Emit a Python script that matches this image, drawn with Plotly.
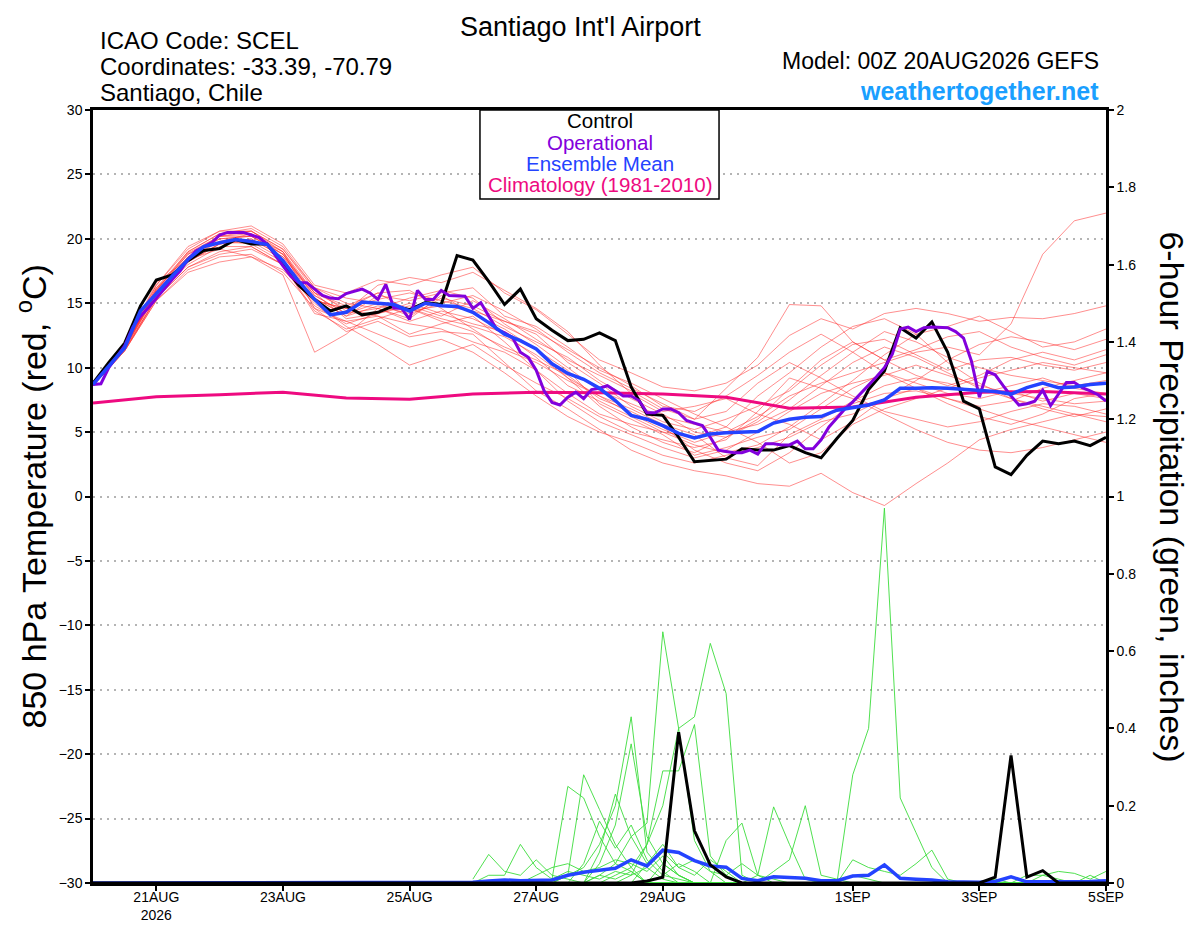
import pandas as pd
import plotly.graph_objects as go

run_start = '2026-08-20 00:00'
run_end = '2026-09-05 00:00'
pcp_start = '2026-08-26 00:00'

# 850 hPa temperature (C), control run, 6-hourly
control_t = [8.8, 10.4, 11.9, 14.8, 16.8, 17.2, 18.3, 19.1, 19.25, 19.95,
             19.6, 19.6, 18.0, 16.4, 15.3, 14.4, 14.8, 14.1, 14.3, 14.8,
             14.5, 15.05, 14.9, 18.7, 18.35, 16.7, 14.9, 16.1, 13.8, 12.9,
             12.1, 12.2, 12.7, 12.1, 8.5, 6.4, 6.3, 4.6, 2.7, 2.8,
             2.9, 3.7, 3.6, 3.6, 3.95, 3.4, 3.0, 4.5, 5.9, 8.3,
             9.75, 13.1, 12.3, 13.55, 11.2, 7.4, 6.8, 2.3, 1.7, 3.2,
             4.3, 4.1, 4.3, 3.95, 4.6]

# ensemble mean, 6-hourly
mean_t = [8.7, 10.1, 11.55, 14.4, 15.8, 17.1, 18.4, 19.4, 19.7, 19.95,
          19.8, 19.55, 18.3, 16.7, 15.3, 14.1, 14.3, 15.1, 15.0, 14.9,
          14.4, 15.0, 14.8, 14.75, 14.3, 13.5, 12.6, 12.1, 11.45, 10.3,
          9.55, 9.1, 8.4, 7.45, 6.3, 6.0, 5.5, 4.9, 4.55, 4.85,
          4.95, 5.0, 5.05, 5.7, 6.0, 6.15, 6.2, 6.7, 6.9, 7.1,
          7.5, 8.4, 8.4, 8.45, 8.4, 8.3, 8.25, 8.15, 7.95, 8.45,
          8.8, 8.45, 8.5, 8.7, 8.8]

# operational run, 3-hourly
oper_t = [8.7, 8.75, 10.0, 10.9, 11.7, 13.1, 14.0, 14.65, 15.4, 16.1,
          16.85, 17.5, 18.4, 19.05, 19.4, 19.7, 20.3, 20.5, 20.5, 20.5,
          20.3, 20.1, 19.6, 18.7, 17.9, 17.1, 16.6, 16.6, 16.1, 15.6,
          15.4, 15.35, 15.75, 15.9, 16.1, 15.8, 15.3, 16.45, 14.65, 14.6,
          13.75, 16.0, 15.3, 15.3, 16.0, 15.6, 15.55, 15.55, 14.6, 15.05,
          14.0, 13.0, 12.7, 12.35, 11.2, 10.8, 9.8, 8.2, 7.3, 7.1,
          7.7, 8.1, 7.6, 8.3, 8.4, 8.6, 8.2, 7.8, 7.8, 7.45,
          6.5, 6.5, 6.8, 6.8, 6.5, 5.9, 5.7, 5.5, 4.6, 3.6,
          3.5, 3.4, 3.4, 3.6, 3.3, 4.1, 4.1, 4.0, 4.0, 4.3,
          3.7, 3.7, 4.4, 5.4, 6.1, 6.8, 7.35, 8.0, 8.6, 9.3,
          10.0, 11.05, 13.0, 13.15, 12.8, 13.1, 13.15, 13.1, 13.1, 12.8,
          12.3, 10.5, 7.7, 9.7, 9.45, 8.6, 7.8, 7.1, 7.2, 7.4,
          8.25, 7.05, 7.95, 8.85, 8.85, 8.45, 8.2, 7.9, 7.4]

# climatology 1981-2010, daily
clim_t = [7.25, 7.75, 7.9, 8.1, 7.65, 7.55, 7.95, 8.1, 8.05,
          7.95, 7.7, 6.85, 6.95, 7.7, 8.1, 8.15, 7.95]

# ensemble members, 12-hourly
mem01 = [8.8, 11.9, 16.4, 19.4, 20.6, 21.0, 19.6, 16.4, 15.8, 16.8, 16.4,
         17.2, 17.8, 15.8, 14.5, 12.6, 10.6, 9.6, 8.5, 8.2, 8.8, 10.2,
         12.5, 13.8, 13.0, 14.2, 14.6, 14.2, 13.6, 13.9, 13.8, 14.2, 14.8]
mem02 = [8.7, 11.6, 15.9, 18.6, 20.2, 20.4, 18.8, 15.2, 14.6, 15.3, 15.8,
         15.2, 14.6, 13.2, 12.0, 10.8, 9.0, 7.6, 6.4, 5.0, 4.6, 5.8,
         7.5, 9.4, 11.2, 12.8, 12.0, 10.8, 10.0, 9.4, 9.0, 8.6, 9.0]
mem03 = [8.7, 11.5, 15.6, 18.2, 19.6, 20.0, 18.6, 15.6, 14.2, 15.0, 14.6,
         13.8, 13.2, 12.4, 11.0, 9.2, 7.8, 6.4, 5.2, 4.2, 5.0, 6.2,
         7.8, 8.8, 9.6, 10.4, 11.2, 11.6, 11.0, 13.4, 18.8, 21.4, 22.0]
mem04 = [8.6, 11.4, 15.4, 17.8, 19.0, 19.4, 18.0, 14.8, 13.4, 14.2, 14.8,
         14.0, 15.2, 13.8, 12.2, 10.6, 9.4, 8.2, 6.8, 6.0, 8.4, 10.8,
         14.9, 14.8, 12.0, 10.6, 11.4, 12.4, 12.8, 11.6, 10.8, 10.2, 11.0]
mem05 = [8.8, 11.7, 16.0, 18.8, 20.0, 20.2, 19.0, 14.6, 12.8, 13.6, 12.4,
         12.8, 12.6, 10.4, 8.2, 6.8, 5.2, 3.6, 2.6, 2.0, 1.6, 1.0,
         0.8, 1.8, 0.3, -0.7, 1.0, 2.6, 4.4, 5.2, 5.8, 6.4, 6.2]
mem06 = [8.9, 11.8, 16.6, 18.4, 19.2, 18.6, 17.2, 11.2, 12.6, 14.6, 13.8,
         15.6, 14.2, 13.0, 11.4, 9.8, 7.2, 6.0, 4.8, 3.2, 3.8, 4.6,
         5.2, 6.8, 8.4, 9.6, 8.8, 8.0, 7.6, 8.2, 7.4, 8.0, 7.6]
mem07 = [8.6, 11.3, 15.2, 17.4, 18.2, 18.6, 17.6, 15.0, 13.2, 11.8, 10.2,
         11.0, 11.8, 10.2, 8.8, 7.6, 6.2, 5.0, 4.4, 3.8, 4.4, 6.6,
         9.2, 8.4, 7.6, 6.4, 5.2, 4.2, 3.6, 3.4, 3.8, 4.4, 5.0]
mem08 = [8.7, 11.6, 16.0, 19.0, 20.4, 20.6, 19.2, 16.0, 14.4, 16.4, 17.0,
         16.6, 17.4, 16.0, 14.6, 12.8, 10.2, 8.0, 6.6, 7.0, 7.6, 6.4,
         5.6, 4.4, 5.8, 7.6, 9.0, 10.6, 11.8, 12.4, 12.0, 11.4, 12.2]
mem09 = [8.8, 11.7, 16.2, 18.4, 19.8, 19.6, 18.2, 15.4, 14.0, 15.6, 15.2,
         15.8, 16.2, 14.0, 13.2, 11.6, 9.8, 8.8, 7.6, 6.4, 5.4, 4.2,
         2.6, 3.4, 5.6, 6.8, 7.6, 8.4, 9.2, 9.8, 10.4, 10.0, 9.6]
mem10 = [8.7, 11.5, 15.7, 18.0, 19.4, 19.4, 18.0, 14.2, 13.6, 14.0, 13.4,
         13.0, 12.0, 11.2, 9.8, 8.0, 6.4, 5.6, 5.0, 4.6, 5.4, 7.8,
         9.6, 11.6, 13.2, 13.8, 12.6, 10.4, 8.8, 7.6, 7.0, 6.4, 5.8]
mem11 = [8.6, 11.4, 15.4, 18.2, 19.6, 20.0, 18.6, 15.8, 14.8, 15.8, 16.0,
         14.6, 13.0, 11.4, 10.4, 9.0, 7.8, 6.8, 5.6, 4.8, 3.0, 2.4,
         4.8, 6.0, 7.4, 8.6, 9.2, 8.8, 8.0, 8.6, 9.2, 8.4, 8.0]
mem12 = [8.8, 11.8, 16.2, 19.0, 20.4, 20.8, 19.4, 16.2, 15.0, 14.6, 13.6,
         14.4, 13.8, 12.6, 10.8, 8.6, 7.4, 6.2, 5.0, 4.0, 3.4, 4.0,
         5.4, 7.2, 9.0, 11.0, 12.6, 13.2, 14.0, 12.8, 11.6, 12.0, 13.0]
mem13 = [8.7, 11.6, 15.8, 18.6, 19.8, 20.4, 19.0, 15.4, 14.0, 14.8, 14.2,
         15.0, 15.6, 14.4, 13.0, 11.2, 9.6, 8.4, 7.2, 6.0, 6.6, 8.8,
         10.4, 9.2, 7.8, 6.6, 6.0, 5.4, 5.8, 6.6, 7.2, 7.0, 6.4]
mem14 = [8.6, 11.3, 15.4, 17.8, 18.8, 19.2, 18.0, 14.4, 13.0, 13.8, 14.6,
         13.6, 12.8, 11.6, 10.6, 9.4, 7.6, 6.6, 5.4, 3.6, 2.6, 2.0,
         3.4, 5.4, 7.2, 8.0, 8.2, 7.6, 6.8, 6.0, 5.4, 4.8, 4.2]
mem15 = [8.8, 11.7, 16.0, 18.8, 20.2, 20.6, 19.2, 16.2, 15.4, 15.0, 14.0,
         15.4, 14.8, 13.6, 12.6, 10.4, 8.8, 7.0, 5.8, 5.2, 6.0, 7.0,
         8.2, 10.2, 11.8, 12.2, 11.0, 9.8, 10.6, 10.8, 10.2, 9.8, 10.4]
mem16 = [8.7, 11.5, 15.8, 18.4, 19.6, 19.8, 18.4, 15.2, 14.6, 14.0, 12.6,
         13.4, 14.0, 12.0, 9.8, 7.4, 5.8, 4.8, 3.8, 3.0, 3.6, 5.0,
         6.6, 8.0, 8.8, 9.4, 10.2, 9.4, 8.6, 8.0, 7.6, 7.2, 7.4]
mem17 = [8.7, 11.6, 16.1, 18.9, 20.2, 20.2, 18.8, 15.6, 14.2, 14.6, 15.4,
         16.0, 15.4, 13.4, 11.8, 10.0, 8.2, 7.2, 6.2, 5.6, 5.0, 5.6,
         6.8, 8.6, 10.4, 11.6, 10.8, 9.6, 8.4, 7.6, 6.8, 6.2, 6.8]
mem18 = [8.8, 11.8, 16.4, 19.2, 20.6, 20.6, 19.0, 15.8, 13.8, 14.2, 15.0,
         14.2, 13.4, 12.8, 11.4, 9.2, 7.0, 5.4, 4.2, 3.4, 4.6, 6.0,
         8.4, 10.6, 12.0, 10.6, 9.4, 8.6, 9.4, 10.6, 11.2, 10.6, 11.4]
mem19 = [8.6, 11.3, 15.2, 17.6, 18.6, 18.8, 17.4, 14.6, 13.6, 12.6, 11.6,
         12.2, 11.2, 9.6, 7.8, 6.2, 5.0, 4.2, 3.2, 2.6, 3.2, 3.8,
         4.6, 5.8, 6.4, 7.6, 8.4, 7.2, 6.2, 5.6, 6.4, 7.6, 8.0]
mem20 = [8.7, 11.6, 15.8, 18.6, 20.0, 20.2, 18.8, 15.8, 14.6, 15.8, 14.4,
         14.8, 14.4, 13.6, 12.8, 11.4, 10.0, 8.6, 7.0, 6.6, 7.8, 9.4,
         11.2, 12.6, 11.2, 9.6, 8.4, 7.6, 7.0, 7.4, 8.4, 9.0, 9.6]
members_t = [mem01, mem02, mem03, mem04, mem05, mem06, mem07, mem08, mem09, mem10,
             mem11, mem12, mem13, mem14, mem15, mem16, mem17, mem18, mem19, mem20]

# 6-hour precipitation (inches), 6-hourly
control_p = [0, 0, 0, 0, 0, 0, 0, 0, 0, 0,
             0, 0, 0, 0, 0, 0, 0, 0, 0, 0,
             0, 0, 0, 0, 0, 0, 0, 0, 0, 0,
             0, 0, 0, 0, 0, 0.005, 0.015, 0.39, 0.135, 0.047,
             0.016, 0, 0, 0, 0, 0, 0, 0, 0, 0,
             0, 0, 0, 0, 0, 0, 0, 0.015, 0.33, 0.015,
             0.032, 0, 0, 0, 0]
mean_p = [0, 0, 0, 0, 0, 0, 0, 0, 0, 0,
          0, 0, 0, 0, 0, 0, 0, 0, 0, 0,
          0, 0, 0, 0, 0.002, 0.005, 0.008, 0.006, 0.008, 0.008,
          0.02, 0.028, 0.033, 0.038, 0.06, 0.044, 0.085, 0.079, 0.058, 0.044,
          0.041, 0.012, 0.006, 0.016, 0.014, 0.012, 0.006, 0.006, 0.018, 0.02,
          0.047, 0.012, 0.01, 0.008, 0.003, 0.002, 0.002, 0.004, 0.016, 0.003,
          0.003, 0.002, 0.003, 0.004, 0.006]

# member precip, 6-hourly from 26AUG 00Z
pcp01 = [0, 0, 0, 0, 0, 0, 0, 0, 0, 0,
         0, 0, 0.02, 0.01, 0, 0, 0, 0, 0, 0,
         0, 0, 0, 0, 0.28, 0.40, 0.97, 0.22, 0.13, 0.04,
         0, 0, 0, 0, 0, 0, 0, 0, 0, 0, 0]
pcp02 = [0, 0, 0, 0, 0, 0, 0, 0, 0.02, 0.05,
         0.12, 0.155, 0.65, 0.40, 0.11, 0.03, 0, 0, 0, 0,
         0, 0, 0, 0, 0, 0, 0, 0, 0, 0,
         0, 0, 0, 0, 0, 0, 0, 0, 0, 0, 0]
pcp03 = [0, 0, 0, 0, 0, 0, 0, 0, 0, 0.02,
         0.04, 0.10, 0.29, 0.29, 0.41, 0.07, 0.02, 0, 0, 0,
         0, 0, 0, 0, 0.02, 0.01, 0, 0, 0, 0,
         0, 0, 0, 0, 0, 0, 0, 0, 0, 0, 0]
pcp04 = [0, 0, 0, 0, 0, 0, 0, 0, 0, 0,
         0.02, 0.10, 0.20, 0.40, 0.43, 0.62, 0.49, 0.02, 0, 0,
         0, 0, 0, 0, 0, 0, 0, 0, 0, 0,
         0, 0, 0, 0, 0, 0, 0, 0, 0, 0, 0]
pcp05 = [0, 0, 0, 0, 0, 0, 0.02, 0.04, 0.10, 0.20,
         0.43, 0.08, 0.03, 0, 0, 0, 0, 0, 0, 0,
         0, 0, 0, 0, 0, 0, 0, 0, 0, 0,
         0, 0, 0, 0, 0, 0, 0, 0, 0, 0, 0]
pcp06 = [0, 0, 0, 0, 0, 0, 0, 0, 0.05, 0.15,
         0.36, 0.12, 0.05, 0.02, 0, 0, 0, 0, 0, 0,
         0, 0, 0, 0, 0, 0, 0, 0, 0, 0,
         0, 0, 0, 0, 0, 0, 0, 0, 0, 0, 0]
pcp07 = [0, 0, 0, 0, 0, 0.01, 0.25, 0.22, 0.12, 0.05,
         0.03, 0, 0, 0, 0, 0, 0, 0, 0, 0,
         0, 0, 0, 0, 0, 0, 0, 0, 0, 0,
         0, 0, 0, 0, 0, 0, 0, 0, 0, 0, 0]
pcp08 = [0, 0, 0, 0, 0, 0, 0.02, 0.28, 0.19, 0.10,
         0.04, 0, 0.05, 0.02, 0, 0, 0, 0, 0, 0,
         0, 0, 0, 0, 0, 0, 0, 0, 0, 0,
         0, 0, 0, 0, 0, 0, 0, 0, 0, 0, 0]
pcp09 = [0, 0, 0, 0, 0, 0, 0, 0.05, 0.16, 0.09,
         0.15, 0.06, 0.02, 0.05, 0.03, 0, 0, 0, 0, 0,
         0, 0, 0, 0, 0, 0, 0, 0, 0, 0,
         0, 0, 0, 0, 0, 0, 0, 0, 0, 0, 0]
pcp10 = [0, 0, 0, 0, 0, 0, 0, 0, 0.08, 0.23,
         0.12, 0.05, 0.10, 0.04, 0.02, 0.06, 0.03, 0, 0, 0,
         0, 0, 0, 0, 0, 0, 0, 0, 0, 0,
         0, 0, 0, 0, 0, 0, 0, 0, 0, 0, 0]
pcp11 = [0.01, 0.074, 0.03, 0.02, 0.06, 0.02, 0.01, 0, 0.02, 0.01,
         0.03, 0, 0, 0, 0, 0, 0, 0, 0, 0,
         0, 0, 0, 0, 0, 0, 0, 0, 0, 0,
         0, 0, 0, 0, 0, 0, 0, 0, 0, 0, 0]
pcp12 = [0, 0.02, 0.02, 0.10, 0.04, 0.01, 0.03, 0.02, 0.01, 0.03,
         0.02, 0.04, 0.01, 0, 0, 0, 0, 0, 0, 0,
         0, 0, 0, 0, 0, 0, 0, 0, 0, 0,
         0, 0, 0, 0, 0, 0, 0, 0, 0, 0, 0]
pcp13 = [0, 0, 0, 0, 0, 0, 0, 0, 0, 0,
         0, 0, 0, 0, 0, 0, 0.11, 0.155, 0.02, 0.01,
         0, 0, 0, 0, 0, 0, 0, 0, 0, 0,
         0, 0, 0, 0, 0, 0, 0, 0, 0, 0, 0]
pcp14 = [0, 0, 0, 0, 0, 0, 0, 0, 0, 0,
         0, 0, 0, 0, 0, 0, 0, 0, 0.02, 0.197,
         0.10, 0.01, 0, 0, 0, 0, 0, 0, 0, 0,
         0, 0, 0, 0, 0, 0, 0, 0, 0, 0, 0]
pcp15 = [0, 0, 0, 0, 0, 0, 0, 0, 0, 0,
         0, 0, 0, 0, 0, 0, 0, 0, 0, 0.03,
         0.06, 0.20, 0.02, 0.01, 0, 0, 0, 0, 0, 0,
         0, 0, 0, 0, 0, 0, 0, 0, 0, 0, 0]
pcp16 = [0, 0, 0, 0, 0, 0, 0, 0, 0, 0,
         0, 0, 0, 0, 0, 0, 0, 0, 0, 0,
         0, 0, 0, 0, 0.06, 0.04, 0.03, 0.02, 0.05, 0.085,
         0.01, 0, 0, 0, 0, 0, 0.02, 0.03, 0.025, 0.01, 0.03]
pcp17 = [0, 0, 0, 0, 0, 0, 0, 0, 0, 0,
         0, 0.05, 0.08, 0.04, 0.06, 0.03, 0.02, 0.05, 0.02, 0,
         0, 0, 0, 0, 0, 0, 0, 0, 0, 0,
         0, 0, 0, 0.01, 0, 0.02, 0.02, 0.01, 0, 0.02, 0]
pcp18 = [0, 0, 0, 0, 0.02, 0.04, 0.05, 0.03, 0.04, 0.06,
         0.05, 0.03, 0.07, 0.02, 0, 0, 0, 0, 0, 0,
         0, 0, 0, 0, 0, 0, 0, 0, 0, 0,
         0, 0, 0, 0, 0, 0, 0, 0, 0, 0, 0]
members_p = [pcp01, pcp02, pcp03, pcp04, pcp05, pcp06, pcp07, pcp08, pcp09,
             pcp10, pcp11, pcp12, pcp13, pcp14, pcp15, pcp16, pcp17, pcp18]

# axis ticks
date_ticks = ['2026-08-21', '2026-08-23', '2026-08-25', '2026-08-27',
              '2026-08-29', '2026-09-01', '2026-09-03', '2026-09-05']
date_labels = ['21AUG<br>2026', '23AUG', '25AUG', '27AUG',
               '29AUG', '1SEP', '3SEP', '5SEP']
temp_ticks = [-30, -25, -20, -15, -10, -5, 0, 5, 10, 15, 20, 25, 30]
pcp_ticks = [0, 0.2, 0.4, 0.6, 0.8, 1, 1.2, 1.4, 1.6, 1.8, 2]
pcp_labels = ['0', '0.2', '0.4', '0.6', '0.8', '1', '1.2', '1.4', '1.6', '1.8', '2']

t6 = pd.date_range(run_start, periods=len(control_t), freq='6h')
t3 = pd.date_range(run_start, periods=len(oper_t), freq='3h')
t12 = pd.date_range(run_start, periods=len(mem01), freq='12h')
t24 = pd.date_range(run_start, periods=len(clim_t), freq='D')
tp = pd.date_range(pcp_start, periods=len(pcp01), freq='6h')

RED = 'rgba(255,45,45,0.6)'
GREEN = 'rgb(60,220,60)'
BLACK = 'black'
PURPLE = '#8200dc'
BLUE = '#2443ff'
PINK = '#ee0a80'

fig = go.Figure()

for m in members_t:
    fig.add_trace(go.Scatter(x=t12, y=m, mode='lines', line=dict(color=RED, width=0.9)))

fig.add_trace(go.Scatter(x=t24, y=clim_t, mode='lines', line=dict(color=PINK, width=3)))
fig.add_trace(go.Scatter(x=t6, y=control_t, mode='lines', line=dict(color=BLACK, width=3)))
fig.add_trace(go.Scatter(x=t3, y=oper_t, mode='lines', line=dict(color=PURPLE, width=3)))
fig.add_trace(go.Scatter(x=t6, y=mean_t, mode='lines', line=dict(color=BLUE, width=3.5)))

for m in members_p:
    fig.add_trace(go.Scatter(x=tp, y=m, mode='lines', yaxis='y2',
                             line=dict(color=GREEN, width=0.9)))
fig.add_trace(go.Scatter(x=t6, y=mean_p, mode='lines', yaxis='y2',
                         line=dict(color=BLUE, width=3.5)))
fig.add_trace(go.Scatter(x=t6, y=control_p, mode='lines', yaxis='y2',
                         line=dict(color=BLACK, width=3)))

font_family = 'Liberation Sans, Arial, sans-serif'
grid_dash = '2px,5px'

# the page body adds an 8px margin, so the figure is sized to end at the window edge
fig_w, fig_h = 1192, 919

fig.update_layout(
    width=fig_w, height=fig_h,
    margin=dict(l=85, r=94, t=102, b=44, autoexpand=False),
    plot_bgcolor='white', paper_bgcolor='white',
    showlegend=False,
    font=dict(family=font_family, color='black'),
    xaxis=dict(type='date', range=[run_start, run_end], automargin=False,
               tickvals=date_ticks, ticktext=date_labels,
               ticks='outside', ticklen=5, tickwidth=1.5, tickcolor='black',
               ticklabelstandoff=-6,
               showline=True, linecolor='black', linewidth=2.5, mirror=True,
               showgrid=False, zeroline=False, tickfont=dict(size=14)),
    yaxis=dict(range=[-30, 30], tickvals=temp_ticks, automargin=False,
               ticks='outside', ticklen=5, tickwidth=1.5, tickcolor='black',
               showline=True, linecolor='black', linewidth=2.5,
               showgrid=True, gridcolor='#b4b4b4', griddash=grid_dash, gridwidth=1.5,
               zeroline=False, tickfont=dict(size=14)),
    yaxis2=dict(range=[0, 2], overlaying='y', side='right', automargin=False,
                tickvals=pcp_ticks, ticktext=pcp_labels,
                ticks='outside', ticklen=5, tickwidth=1.5, tickcolor='black',
                showline=True, linecolor='black', linewidth=2.5,
                showgrid=False, zeroline=False, tickfont=dict(size=14)),
)

# chart title, kept inside the top edge of the figure
fig.add_annotation(text="Santiago Int'l Airport", xref='paper', yref='paper',
                   x=0.4817, y=1.1074, xanchor='center', yanchor='middle',
                   showarrow=False, font=dict(size=27))

# legend box
fig.add_shape(type='rect', xref='paper', yref='paper',
              x0=0.382, x1=0.618, y0=0.8849, y1=1.0,
              line=dict(color='black', width=1.5), fillcolor='white', layer='above')

legend_items = [('Control', BLACK, 0.9858), ('Operational', PURPLE, 0.9586),
                ('Ensemble Mean', BLUE, 0.9314), ('Climatology (1981-2010)', PINK, 0.903)]
for txt, col, yy in legend_items:
    fig.add_annotation(text=txt, xref='paper', yref='paper', x=0.5005, y=yy,
                       xanchor='center', yanchor='middle', showarrow=False,
                       font=dict(size=20.5, color=col))

header_left = [('ICAO Code: SCEL', 1.0905), ('Coordinates: -33.39, -70.79', 1.0569),
               ('Santiago, Chile', 1.022)]
for txt, yy in header_left:
    fig.add_annotation(text=txt, xref='paper', yref='paper', x=0.005, y=yy,
                       xanchor='left', yanchor='middle', showarrow=False,
                       font=dict(size=24))

fig.add_annotation(text='Model: 00Z 20AUG2026 GEFS', xref='paper', yref='paper',
                   x=0.995, y=1.0634, xanchor='right', yanchor='middle',
                   showarrow=False, font=dict(size=23))
fig.add_annotation(text='<b>weathertogether.net</b>', xref='paper', yref='paper',
                   x=0.995, y=1.0246, xanchor='right', yanchor='middle',
                   showarrow=False, font=dict(size=25, color='#1a9fff'))

fig.add_annotation(text='850 hPa Temperature (red, <sup>o</sup>C)', xref='paper', yref='paper',
                   x=-0.0612, y=0.5, xanchor='center', yanchor='middle',
                   textangle=-90, showarrow=False, font=dict(size=34))
fig.add_annotation(text='6-hour Precipitation (green, inches)', xref='paper', yref='paper',
                   x=1.0652, y=0.5, xanchor='center', yanchor='middle',
                   textangle=90, showarrow=False, font=dict(size=34))

fig.write_html('out.html')
